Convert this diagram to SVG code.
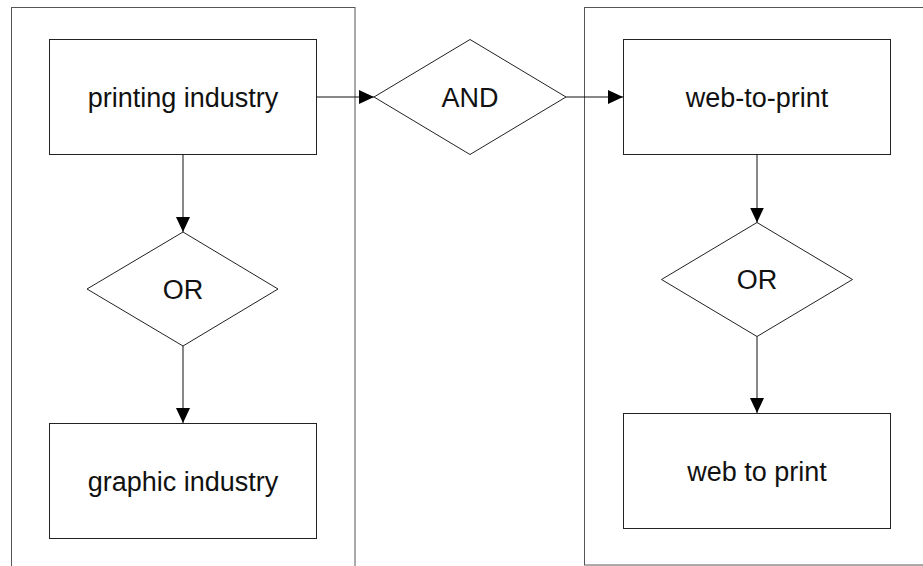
<svg xmlns="http://www.w3.org/2000/svg" width="923" height="566" viewBox="0 0 923 566">
<style>
.container{fill:none;stroke:#555;stroke-width:1}
.box{fill:#fff;stroke:#222;stroke-width:1}
.lbl{font-family:"Liberation Sans",Arial,sans-serif;font-size:27px;fill:#111;text-anchor:middle}
.edge{fill:none;stroke:#111;stroke-width:1}
</style>
<defs>
<marker id="arr" markerUnits="userSpaceOnUse" markerWidth="16" markerHeight="15" refX="15" refY="7" orient="auto">
<path d="M0,0 L15,7 L0,14 z" fill="#000"/>
</marker>
</defs>
<rect width="923" height="566" fill="#fff"/>
<g id="containers">
<rect class="container" x="11.5" y="7.5" width="343.5" height="620"/>
<rect class="container" x="584.5" y="7.5" width="400" height="557.5"/>
</g>
<g id="printing-industry">
<rect class="box" x="49.5" y="39.5" width="267" height="115"/>
<text class="lbl" x="183" y="106.5">printing industry</text>
</g>
<g id="or-left">
<polygon class="box" points="183,232 278,289 183,346 87,289"/>
<text class="lbl" x="183" y="298.5">OR</text>
</g>
<g id="graphic-industry">
<rect class="box" x="49.5" y="423.5" width="267" height="115"/>
<text class="lbl" x="183" y="490.5">graphic industry</text>
</g>
<g id="and">
<polygon class="box" points="374,97 470,39.5 566,97 470,154.5"/>
<text class="lbl" x="470" y="106.5">AND</text>
</g>
<g id="web-to-print">
<rect class="box" x="623.5" y="39.5" width="267" height="115"/>
<text class="lbl" x="757" y="106.5">web-to-print</text>
</g>
<g id="or-right">
<polygon class="box" points="757,222.5 852.5,279.5 757,336.5 661.5,279.5"/>
<text class="lbl" x="757" y="289">OR</text>
</g>
<g id="web-to-print-2">
<rect class="box" x="623.5" y="413.5" width="267" height="115"/>
<text class="lbl" x="757" y="480.5">web to print</text>
</g>
<g id="connectors">
<line class="edge" x1="183" y1="154.5" x2="183" y2="232" marker-end="url(#arr)"/>
<line class="edge" x1="183" y1="346" x2="183" y2="423" marker-end="url(#arr)"/>
<line class="edge" x1="316.5" y1="97" x2="374" y2="97" marker-end="url(#arr)"/>
<line class="edge" x1="566" y1="97" x2="623" y2="97" marker-end="url(#arr)"/>
<line class="edge" x1="757" y1="154.5" x2="757" y2="222.5" marker-end="url(#arr)"/>
<line class="edge" x1="757" y1="336.5" x2="757" y2="413" marker-end="url(#arr)"/>
</g>
</svg>
